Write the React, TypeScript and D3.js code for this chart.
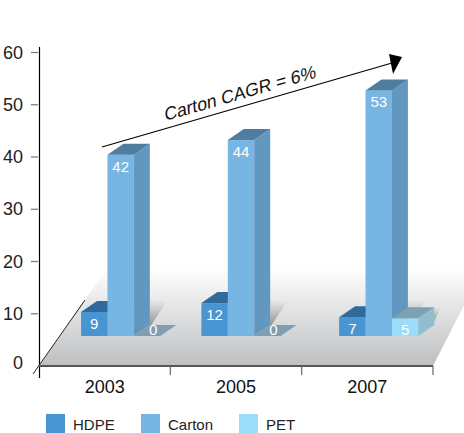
import React from 'react';
import * as d3 from 'd3';

const years = ['2003', '2005', '2007'];
const seriesNames = ['HDPE', 'Carton', 'PET'];
const seriesColors = ['#4895d1', '#77b5e3', '#9bdcf9'];
const topColors = ['#2f6a9a', '#4f7d9f', '#7f9fb2'];
const sideColors = ['#3a7fb5', '#6298c0', '#92bccf'];

// printed labels
const hdpe = [9, 12, 7];
const carton = [42, 44, 53];
const pet = [0, 0, 5];

// drawn heights, in axis units
const hdpeHeights = [4.6, 6.3, 3.6];
const cartonHeights = [34.7, 37.5, 47];
const petHeights = [0, 0, 3.4];

const yTicks = [0, 10, 20, 30, 40, 50, 60];

const labels = [hdpe, carton, pet];
const heights = [hdpeHeights, cartonHeights, petHeights];

const fontFamily = '"Liberation Sans", Arial, sans-serif';
const width = 464;
const height = 433;
const depthX = 16;
const depthY = -11;
const barW = 26.4;
const floorBaseY = 336;
const groupShift = [-12, -23, -16.6];

const pathOf = d3.line();

export default function App() {
  const y = d3.scaleLinear().domain([0, 60]).range([366, 52.5]);
  const x = d3.scaleBand().domain(years).range([39, 433]);
  const barY = y.copy().range([floorBaseY, floorBaseY - 313.5]);
  const barX = d3.scaleBand().domain(seriesNames).range([0, barW * 3]);

  const floor = pathOf([[39, 366], [433, 366], [483, 268], [107, 268]]);

  return (
    <svg
      width={width}
      height={height}
      style={{ position: 'absolute', left: 0, top: 0, fontFamily }}
    >
      <defs>
        <linearGradient id="floorFill" x1="0" y1="0" x2="0" y2="1">
          <stop offset="0" stopColor="#ffffff" />
          <stop offset="0.4" stopColor="#e4e5e6" />
          <stop offset="1" stopColor="#bebfc1" />
        </linearGradient>
        <linearGradient id="shadowFill" x1="0" y1="1" x2="0" y2="0">
          <stop offset="0" stopColor="#777" stopOpacity="0.8" />
          <stop offset="1" stopColor="#999" stopOpacity="0" />
        </linearGradient>
      </defs>

      <path d={floor ?? ''} fill="url(#floorFill)" />

      {/* y axis */}
      <line x1={39.5} x2={39.5} y1={47} y2={378} stroke="#000" strokeWidth={1.2} />
      <line x1={33} y1={374} x2={85} y2={300} stroke="#222" strokeWidth={1} />
      {yTicks.map(t => (
        <g key={t}>
          {t > 0 && <line x1={31} x2={38} y1={y(t)} y2={y(t)} stroke="#777" strokeWidth={1.2} />}
          <text x={23} y={t === 0 ? y(t) + 3 : y(t) + 6} textAnchor="end" fontSize={18} fill="#222">
            {t}
          </text>
        </g>
      ))}

      {/* x axis */}
      <line x1={39} x2={433} y1={366} y2={366} stroke="#555" strokeWidth={2} />
      {years.map(year => {
        const x1 = (x(year) ?? 0) + x.bandwidth();
        return (
          <g key={year}>
            <line x1={x1} x2={x1} y1={366} y2={375} stroke="#666" strokeWidth={1.2} />
            <text x={x1 - x.bandwidth() / 2} y={393} textAnchor="middle" fontSize={18} fill="#111">
              {year}
            </text>
          </g>
        );
      })}

      {/* bars, back shadow first */}
      {years.map((year, g) => {
        const centre = (x(year) ?? 0) + x.bandwidth() / 2 + groupShift[g] + 28;
        const left = centre - (barW * 3) / 2;
        return (
          <g key={year}>
            {seriesNames.map((name, s) => {
              const value = heights[s][g];
              const x0 = left + (barX(name) ?? 0);
              const x1 = x0 + barW;
              const y0 = barY(value);
              const top = pathOf([[x0, y0], [x1, y0], [x1 + depthX, y0 + depthY], [x0 + depthX, y0 + depthY]]);
              const side = pathOf([[x1, y0], [x1 + depthX, y0 + depthY], [x1 + depthX, floorBaseY + depthY], [x1, floorBaseY]]);
              const flat = value === 0;
              const labelY = flat ? floorBaseY - 1 : y0 + 17;
              return (
                <g key={name}>
                  {s === 2 && (
                    <path
                      d={pathOf([
                        [x0 + depthX, floorBaseY + depthY + 2],
                        [x0 + depthX, floorBaseY + depthY - 25],
                        [x0 + depthX + 18, floorBaseY + depthY - 25],
                      ]) ?? ''}
                      fill="url(#shadowFill)"
                    />
                  )}
                  {s === 2 && !flat && (
                    <path
                      d={pathOf([
                        [x1 + depthX, y0 + depthY + 14],
                        [x1 + depthX, y0 + depthY],
                        [x1 + depthX + 6, y0 + depthY],
                      ]) ?? ''}
                      fill="url(#shadowFill)"
                    />
                  )}
                  {!flat && <rect x={x0} y={y0} width={barW} height={floorBaseY - y0} fill={seriesColors[s]} />}
                  {!flat && <path d={side ?? ''} fill={sideColors[s]} />}
                  <path d={top ?? ''} fill={flat ? '#7f9fb0' : topColors[s]} />
                  <text
                    x={(x0 + x1) / 2 + (flat ? 6 : 0)}
                    y={labelY}
                    textAnchor="middle"
                    fontSize={15}
                    fill="#fff"
                  >
                    {labels[s][g]}
                  </text>
                </g>
              );
            })}
          </g>
        );
      })}

      {/* CAGR arrow */}
      <line x1={102} y1={147} x2={392} y2={63} stroke="#000" strokeWidth={1.2} />
      <path d={pathOf([[389, 54], [402, 57], [393, 74]]) ?? ''} fill="#000" />
      {/* the italic face may be missing, so slant it by hand */}
      <text
        transform="translate(165,121) rotate(-16) skewX(-12)"
        fontSize={18}
        fill="#111"
      >
        Carton CAGR = 6%
      </text>

      {/* legend */}
      {seriesNames.map((name, i) => {
        const lx = [46, 141, 239][i];
        return (
          <g key={name}>
            <rect x={lx} y={414} width={19} height={19} fill={seriesColors[i]} />
            <text x={lx + 27} y={430} fontSize={15} fill="#222">
              {name}
            </text>
          </g>
        );
      })}
    </svg>
  );
}
